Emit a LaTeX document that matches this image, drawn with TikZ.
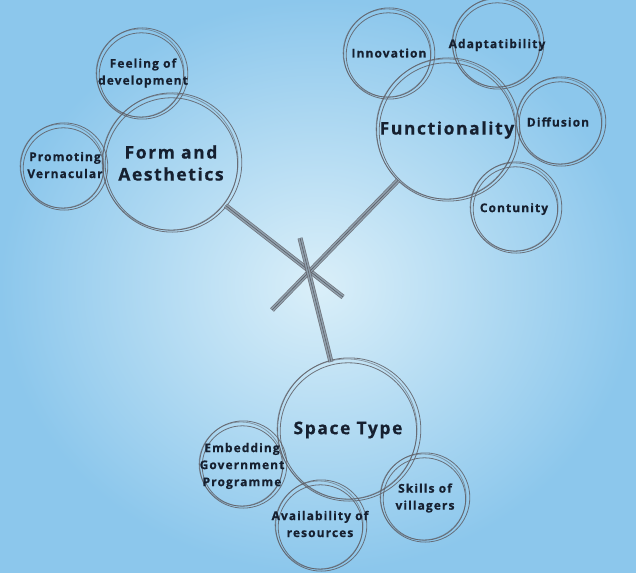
\documentclass[tikz,border=0pt]{standalone}
\usepackage{fontspec}
\setmainfont{Open Sans}[LetterSpace=9, BoldFeatures={FakeBold=0.5}]
\usetikzlibrary{calc}
\definecolor{bgin}{RGB}{218,239,249}
\definecolor{bgout}{RGB}{140,199,236}
\definecolor{ink}{RGB}{22,32,48}
\definecolor{ringc}{RGB}{95,95,102}
\definecolor{barfill}{RGB}{150,168,182}
\newcommand\rings[2]{%
  \draw[ring] (#1.center) ++(1.2pt,0.5pt) circle[radius=#2pt+1.6pt];
  \draw[ring,opacity=0.55] (#1.center) ++(-0.9pt,1pt) circle[radius=#2pt];
  \draw[ring] (#1.center) ++(0.4pt,-1pt) circle[radius=#2pt-1.8pt];
}
\begin{document}
\begin{tikzpicture}[x=1pt,y=-1pt,
  bub/.style={circle, inner sep=0pt, align=center, text=ink,
    font=\bfseries\fontsize{12}{17}\selectfont},
  bigbub/.style={bub, font=\bfseries\fontsize{17.5}{22}\selectfont},
  ring/.style={draw=ringc, line width=0.8pt, opacity=0.85},
  bar/.style={draw=ringc, line width=0.7pt, double=barfill, double distance=3.6pt, opacity=0.85},
  barcore/.style={draw=ringc!80!black, line width=0.6pt, opacity=0.8},
]
\useasboundingbox (0,0) rectangle (636,572);
\shade[inner color=bgin, outer color=bgout] (0,0) rectangle (636,572);

% big circles
\node[bigbub, minimum size=138pt] (form) at (171,163) {Form and\\Aesthetics};
\node[bigbub, minimum size=140pt] (func) at (447,130) {Functionality};
\node[bigbub, minimum size=140pt] (space) at (348,430) {Space Type};

% small circles
\node[bub, minimum size=88pt] (feel) at (141,74) {};
\node[bub, minimum size=84pt] (prom) at (63,167) {};
\node[bub, minimum size=88pt] (inno) at (388,54) {};
\node[bub, minimum size=88pt] (adap) at (497,44) {};
\node[bub, minimum size=86pt] (diff) at (560,122) {};
\node[bub, minimum size=88pt] (cont) at (515,208) {};
\node[bub, minimum size=84pt] (embd) at (242,465) {};
\node[bub, minimum size=88pt] (avail) at (320,526) {};
\node[bub, minimum size=86pt] (skill) at (424,498) {};

% rings
\rings{form}{68}
\rings{func}{70}
\rings{space}{70}
\rings{feel}{44}
\rings{prom}{42}
\rings{inno}{44}
\rings{adap}{44}
\rings{diff}{43}
\rings{cont}{44}
\rings{embd}{42}
\rings{avail}{44}
\rings{skill}{43}

% connectors
\coordinate (e1) at (343,297);
\coordinate (e2) at (272,310);
\coordinate (e3) at (300,238);
\draw[bar] (form) -- (e1);
\draw[barcore] (form) -- (e1);
\draw[bar] (func) -- (e2);
\draw[barcore] (func) -- (e2);
\draw[bar] (e3) -- (space);
\draw[barcore] (e3) -- (space);

% labels
\node[bub] (tfeel) at (143,73) {Feeling of\\development};
\node[bub] (tprom) at (65,165) {Promoting\\Vernacular};
\node[bub] (tinno) at (389,53) {Innovation};
\node[bub] (tadap) at (497,45) {Adaptatibility};
\node[bub] (tdiff) at (558,122) {Diffusion};
\node[bub] (tcont) at (514,209) {Contunity};
\node[bub] (tembd) at (242,466) {Embedding\\Government\\Programme};
\node[bub] (tavail) at (320,524) {Availability of\\resources};
\node[bub] (tskill) at (425,498) {Skills of\\villagers};
\end{tikzpicture}
\end{document}
